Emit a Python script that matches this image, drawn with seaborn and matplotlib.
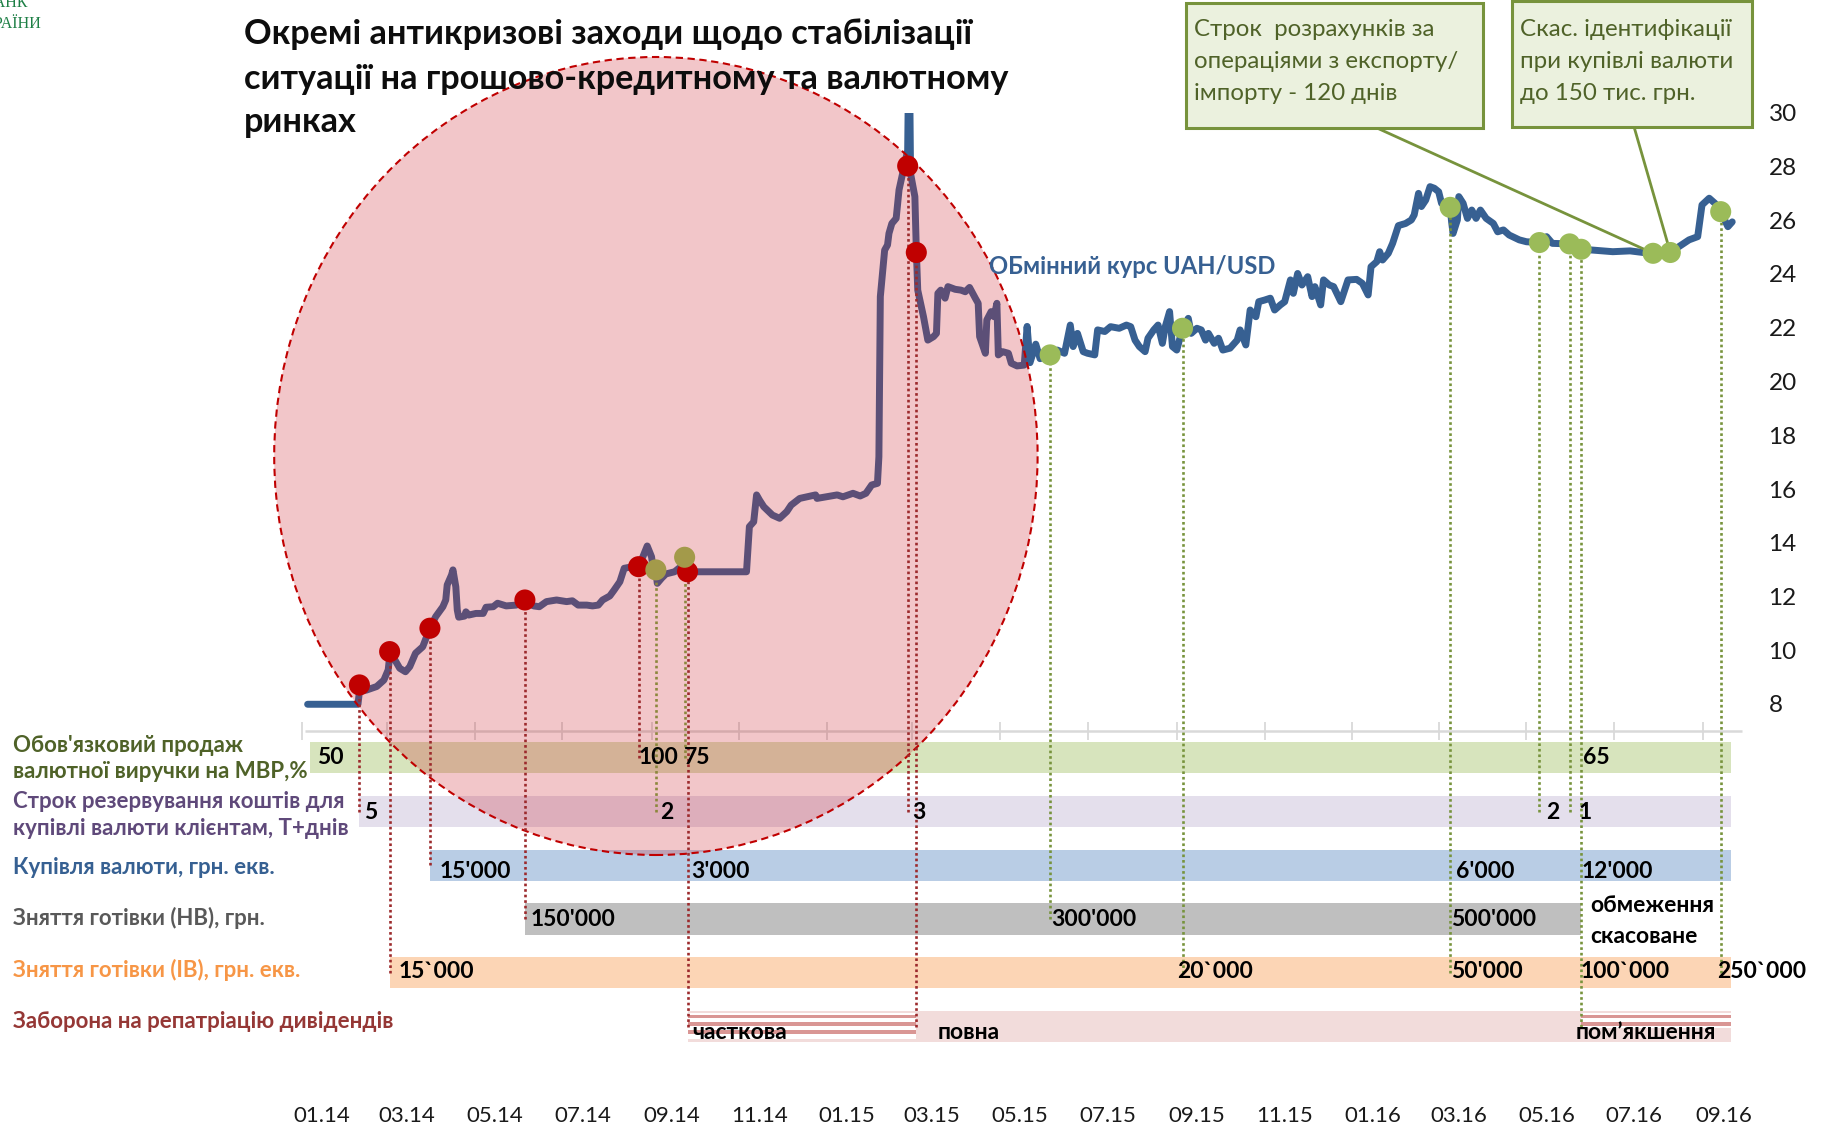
import numpy as np
import pandas as pd
import matplotlib
matplotlib.use("Agg")
import matplotlib.pyplot as plt
import matplotlib.dates as mdates
from matplotlib.patches import Ellipse, Rectangle
import seaborn as sns

# =============================================================================
# Data
# =============================================================================
# official UAH/USD exchange rate
rate_dates = [
    "2014-01-05", "2014-02-09", "2014-02-10", "2014-02-15", "2014-02-22", "2014-02-27",
    "2014-03-02", "2014-03-03", "2014-03-06", "2014-03-10", "2014-03-14", "2014-03-17",
    "2014-03-21", "2014-03-26", "2014-03-31",
    "2014-04-04", "2014-04-09", "2014-04-11", "2014-04-12", "2014-04-15", "2014-04-16",
    "2014-04-18", "2014-04-19", "2014-04-20", "2014-04-24", "2014-04-25", "2014-04-27",
    "2014-05-02", "2014-05-07", "2014-05-09", "2014-05-14", "2014-05-17", "2014-05-23", "2014-05-30",
    "2014-06-05", "2014-06-11", "2014-06-15", "2014-06-20", "2014-06-27",
    "2014-07-04", "2014-07-08", "2014-07-12", "2014-07-18", "2014-07-22", "2014-07-26", "2014-07-29",
    "2014-08-03", "2014-08-06", "2014-08-10", "2014-08-13", "2014-08-19", "2014-08-23",
    "2014-08-26", "2014-08-29",
    "2014-09-01", "2014-09-02", "2014-09-04", "2014-09-05", "2014-09-08", "2014-09-11",
    "2014-09-17", "2014-09-20", "2014-09-23", "2014-09-26",
    "2014-11-06", "2014-11-08", "2014-11-11", "2014-11-13", "2014-11-15", "2014-11-18",
    "2014-11-24", "2014-11-29",
    "2014-12-04", "2014-12-07", "2014-12-13", "2014-12-24", "2014-12-25",
    "2015-01-08", "2015-01-12", "2015-01-19", "2015-01-24", "2015-01-28",
    "2015-02-01", "2015-02-05", "2015-02-06", "2015-02-07", "2015-02-10", "2015-02-12",
    "2015-02-13", "2015-02-15", "2015-02-18", "2015-02-20", "2015-02-24", "2015-02-26",
    "2015-02-27", "2015-02-28",
    "2015-03-03", "2015-03-04", "2015-03-05", "2015-03-09", "2015-03-12", "2015-03-16",
    "2015-03-18", "2015-03-19", "2015-03-21", "2015-03-24", "2015-03-26", "2015-03-31",
    "2015-04-04", "2015-04-07", "2015-04-10", "2015-04-14", "2015-04-16", "2015-04-17",
    "2015-04-21", "2015-04-22", "2015-04-25", "2015-04-27", "2015-04-29", "2015-04-30",
    "2015-05-03", "2015-05-07", "2015-05-09", "2015-05-13", "2015-05-18", "2015-05-20",
    "2015-05-22", "2015-05-26", "2015-05-29",
    "2015-06-05", "2015-06-10", "2015-06-15", "2015-06-19", "2015-06-21", "2015-06-24", "2015-06-28",
    "2015-07-01", "2015-07-06", "2015-07-08", "2015-07-13", "2015-07-17", "2015-07-23",
    "2015-07-28", "2015-07-31",
    "2015-08-03", "2015-08-06", "2015-08-10", "2015-08-12", "2015-08-16", "2015-08-19",
    "2015-08-22", "2015-08-24", "2015-08-27", "2015-08-29",
    "2015-09-01", "2015-09-05", "2015-09-09", "2015-09-11", "2015-09-15", "2015-09-18",
    "2015-09-21", "2015-09-23", "2015-09-27", "2015-09-30",
    "2015-10-03", "2015-10-08", "2015-10-13", "2015-10-15", "2015-10-19", "2015-10-22",
    "2015-10-26", "2015-10-28",
    "2015-11-01", "2015-11-05", "2015-11-08", "2015-11-12", "2015-11-15", "2015-11-19",
    "2015-11-21", "2015-11-24", "2015-11-27",
    "2015-12-01", "2015-12-04", "2015-12-06", "2015-12-10", "2015-12-12", "2015-12-16",
    "2015-12-19", "2015-12-24", "2015-12-29",
    "2016-01-04", "2016-01-08", "2016-01-12", "2016-01-14", "2016-01-18", "2016-01-20",
    "2016-01-22", "2016-01-26", "2016-01-29",
    "2016-02-02", "2016-02-07", "2016-02-11", "2016-02-13", "2016-02-16", "2016-02-18",
    "2016-02-21", "2016-02-24", "2016-02-27",
    "2016-03-01", "2016-03-03", "2016-03-09", "2016-03-10", "2016-03-11", "2016-03-14",
    "2016-03-15", "2016-03-18", "2016-03-21", "2016-03-24", "2016-03-27", "2016-03-30",
    "2016-04-03", "2016-04-08", "2016-04-11", "2016-04-15", "2016-04-19", "2016-04-26",
    "2016-05-01", "2016-05-10", "2016-05-15", "2016-05-19", "2016-05-31",
    "2016-06-08", "2016-06-16", "2016-06-30",
    "2016-07-12", "2016-07-21", "2016-07-28",
    "2016-08-09", "2016-08-15", "2016-08-22", "2016-08-28", "2016-08-31",
    "2016-09-05", "2016-09-09", "2016-09-13", "2016-09-18", "2016-09-21",
]
rate_values = [
    7.99, 7.99, 8.46, 8.52, 8.65, 8.89,
    9.27, 9.76, 9.70, 9.33, 9.20, 9.39,
    9.89, 10.13, 10.82,
    11.25, 11.62, 11.87, 12.43, 12.80, 12.99,
    12.36, 11.50, 11.23, 11.27, 11.43, 11.31,
    11.37, 11.37, 11.60, 11.62, 11.75, 11.65, 11.68,
    11.87, 11.65, 11.62, 11.81, 11.87,
    11.81, 11.84, 11.68, 11.68, 11.65, 11.68, 11.87,
    12.02, 12.24, 12.55, 13.05, 13.11, 13.11,
    13.48, 13.88,
    13.48, 13.10, 12.92, 12.49, 12.68, 12.84,
    12.92, 13.05, 13.15, 12.92,
    12.92, 14.60, 14.78, 15.78, 15.59, 15.34,
    15.03, 14.91,
    15.16, 15.40, 15.65, 15.78, 15.65,
    15.78, 15.71, 15.84, 15.74, 15.84,
    16.15, 16.21, 17.20, 23.16, 24.89, 25.08,
    25.51, 25.88, 26.07, 27.13, 28.12, 28.60,
    33.50, 27.74,
    26.88, 24.90, 23.40, 22.41, 21.54, 21.67,
    21.79, 23.28, 23.40, 23.10, 23.53, 23.43,
    23.40, 23.34, 23.50, 23.10, 22.91, 21.67,
    21.05, 22.29, 22.60, 22.41, 22.91, 20.99,
    21.11, 21.05, 20.68, 20.58, 20.61, 22.05,
    20.70, 21.39, 20.85,
    20.99, 21.17, 21.05, 22.10, 21.30, 21.79, 21.11,
    21.05, 20.99, 21.92, 21.86, 22.04, 21.98,
    22.10, 22.04,
    21.54, 21.30, 21.11, 21.61, 21.92, 22.10,
    21.42, 22.04, 22.60, 21.30,
    21.17, 21.98, 22.35, 21.79, 21.98, 21.92,
    21.54, 21.79, 21.42, 21.61,
    21.17, 21.24, 21.54, 21.92, 21.36, 22.66,
    22.41, 22.97,
    23.03, 23.10, 22.66, 22.85, 22.97, 23.78,
    23.28, 24.02, 23.59,
    23.90, 23.16, 23.53, 22.85, 23.78, 23.59,
    23.53, 22.97, 23.78,
    23.80, 23.65, 23.22, 24.27, 24.46, 24.83,
    24.52, 24.77, 25.14,
    25.80, 25.88, 26.01, 26.20, 27.00, 26.51,
    26.75, 27.25, 27.19,
    27.06, 26.63, 26.48, 25.94, 25.51, 26.01,
    26.88, 26.63, 26.07, 26.38, 26.07, 26.38,
    26.07, 25.88, 25.57, 25.64, 25.45, 25.27,
    25.20, 25.17, 25.39, 25.14, 25.12,
    24.92, 24.89, 24.83,
    24.86, 24.80, 24.77,
    24.80, 25.02, 25.27, 25.39, 26.57,
    26.82, 26.63, 26.32, 25.76, 25.94,
]

# decision markers on the rate line (row = band the dotted leader goes down to)
red_dates = ["2014-02-10", "2014-03-03", "2014-03-31", "2014-06-05",
             "2014-08-23", "2014-09-26", "2015-02-26", "2015-03-04"]
red_values = [8.71, 9.95, 10.82, 11.87, 13.11, 12.92, 28.02, 24.80]
red_rows = [1, 4, 2, 3, 0, 5, 1, 5]

olive_dates = ["2014-09-04", "2014-09-24"]
olive_values = [12.99, 13.46]
olive_rows = [1, 0]

green_dates = ["2015-06-05", "2015-09-05", "2016-03-09", "2016-05-10", "2016-05-31",
               "2016-06-08", "2016-07-28", "2016-08-09", "2016-09-13"]
green_values = [20.99, 21.98, 26.48, 25.17, 25.12, 24.92, 24.77, 24.80, 26.32]
green_rows = [3, 4, 4, 1, 1, 5, -1, -1, 4]

# measure bands
band_end = "2016-09-20"

sale_starts = ["2014-01-07", "2014-08-23", "2014-09-24", "2016-06-08"]
sale_labels = ["50", "100", "75", "65"]

reserve_starts = ["2014-02-10", "2014-09-04", "2015-02-26", "2016-05-10", "2016-05-31"]
reserve_labels = ["5", "2", "3", "2", "1"]

purchase_starts = ["2014-03-31", "2014-09-26", "2016-03-09", "2016-06-08"]
purchase_labels = ["15'000", "3'000", "6'000", "12'000"]

cash_uah_starts = ["2014-06-05", "2015-06-05", "2016-03-09"]
cash_uah_labels = ["150'000", "300'000", "500'000"]
cash_uah_end = "2016-06-08"
cash_uah_after = ["обмеження", "скасоване"]

cash_fx_starts = ["2014-03-03", "2015-09-05", "2016-03-09", "2016-06-08", "2016-09-13"]
cash_fx_labels = ["15`000", "20`000", "50'000", "100`000", "250`000"]

div_starts = ["2014-09-26", "2015-03-04", "2016-06-08"]
div_labels = ["часткова", "повна", "пом’якшення"]
div_partial = [True, False, True]

row_titles = [
    ["Обов'язковий продаж", "валютної виручки на МВР,%"],
    ["Строк резервування коштів для", "купівлі валюти клієнтам, Т+днів"],
    ["Купівля валюти, грн. екв."],
    ["Зняття готівки (НВ), грн."],
    ["Зняття готівки (ІВ), грн. екв."],
    ["Заборона на репатріацію дивідендів"],
]

month_labels = ["01.14", "03.14", "05.14", "07.14", "09.14", "11.14",
                "01.15", "03.15", "05.15", "07.15", "09.15", "11.15",
                "01.16", "03.16", "05.16", "07.16", "09.16"]

title_lines = ["Окремі антикризові заходи щодо стабілізації",
               "ситуації на грошово-кредитному та валютному",
               "ринках"]
rate_title = "ОБмінний курс UAH/USD"
callout_1 = ["Строк  розрахунків за", "операціями з експорту/", "імпорту - 120 днів"]
callout_2 = ["Скас. ідентифікації", "при купівлі валюти", "до 150 тис. грн."]

# =============================================================================
# Styling / layout
# =============================================================================
C_LINE = "#376092"
C_RED, C_OLIVE, C_GREEN = "#c00000", "#a39a4a", "#9bbb59"
C_RED_DOT, C_OLIVE_DOT, C_GREEN_DOT = "#9c2a2c", "#8c873c", "#77933c"
ROW_FILL = ["#d7e4bd", "#e4dfec", "#b9cde5", "#bfbfbf", "#fcd5b5", "#f2dcdb"]
ROW_TEXT = ["#4f6228", "#5f497a", "#366092", "#595959", "#f79646", "#953735"]
ROW_Y = [6, 4, 2, 0, -2, -4]
BAND_H = 1.17

sns.set_theme(style="white")
plt.rcParams["font.family"] = ["Lato", "DejaVu Sans"]

W, H = 1822, 1127
AX_RIGHT, AX_BOTTOM = 1765, 1104
fig = plt.figure(figsize=(W / 100, H / 100), dpi=100)
ax = fig.add_axes([0, 1 - AX_BOTTOM / H, AX_RIGHT / W, AX_BOTTOM / H])

BASE = mdates.date2num(pd.Timestamp("2014-01-15"))
PX_DAY = 1.439
PX_UNIT = 26.875


def X(px):
    return BASE + (px - 322) / PX_DAY


def Y(py):
    return 8 + (704 - py) / PX_UNIT


def dn(d):
    return mdates.date2num(pd.Timestamp(d))


# exchange rate line
rate = pd.DataFrame({"date": pd.to_datetime(rate_dates), "uah": rate_values})
sns.lineplot(data=rate, x="date", y="uah", ax=ax, color=C_LINE, linewidth=5.0,
             estimator=None, sort=False, zorder=2,
             solid_capstyle="round", solid_joinstyle="round")
clip = Rectangle((X(0), Y(AX_BOTTOM)), X(AX_RIGHT) - X(0), 30 - Y(AX_BOTTOM),
                 transform=ax.transData)
ax.lines[-1].set_clip_path(clip)


# bands
def band(row, start, end, color, y=None, h=BAND_H, z=1):
    s, e = dn(start), dn(end)
    ax.barh(ROW_Y[row] if y is None else y, e - s, left=s, height=h,
            color=color, linewidth=0, zorder=z)


rows = [
    (0, sale_starts, sale_labels, band_end, [6.5, -0.5, -1, 1.5]),
    (1, reserve_starts, reserve_labels, band_end, [5, 4, 5, 7, 9]),
    (2, purchase_starts, purchase_labels, band_end, [10, 3.5, 5.5, 0]),
    (3, cash_uah_starts, cash_uah_labels, cash_uah_end, [6, 1, 1]),
    (4, cash_fx_starts, cash_fx_labels, band_end, [9, -5.5, 1, -0.5, -3.5]),
    (5, div_starts, div_labels, band_end, [5, 21.5, -6]),
]
label_dy = [0, 1, 6, 1, -1, 6]
VAL_FS = 16.5

for row, starts, labels, end, offs in rows:
    ends = starts[1:] + [end]
    for s, e in zip(starts, ends):
        band(row, s, e, ROW_FILL[row])
    for s, lab, off in zip(starts, labels, offs):
        ax.text(dn(s) + off / PX_DAY, ROW_Y[row] - label_dy[row] / PX_UNIT, lab,
                fontsize=VAL_FS, fontweight="bold", color="black",
                ha="left", va="center", zorder=7)

# partial / softened dividend ban: white strip with pink lines
div_ends = div_starts[1:] + [band_end]
for s, e, part in zip(div_starts, div_ends, div_partial):
    if not part:
        continue
    stripes = [(1015, 1018), (1022, 1026), (1030, 1034)]
    bottom = 1039
    if s != div_starts[0]:
        stripes, bottom = stripes[:2], 1028
    band(5, s, e, "white", y=Y((1013 + bottom) / 2), h=(bottom - 1013) / PX_UNIT, z=1.2)
    for p1, p2 in stripes:
        band(5, s, e, "#d99694", y=Y((p1 + p2) / 2), h=(p2 - p1) / PX_UNIT, z=1.3)

for i, t in enumerate(cash_uah_after):
    ax.text(dn(cash_uah_end) + 9 / PX_DAY, Y(905 + 31.5 * i), t, fontsize=VAL_FS,
            fontweight="bold", color="black", ha="left", va="center", zorder=7)

# highlight of the crisis period
ax.add_patch(Ellipse((X(655.9), Y(456)), 763.4 / PX_DAY, 798 / PX_UNIT,
                     facecolor=(0.80, 0.12, 0.16, 0.25), edgecolor="#c00000",
                     linewidth=1.5, linestyle=(0, (3.5, 2.2)), zorder=3))

# dotted leaders + markers
for dates, vals, rws, dot_c, lead_c in [
    (red_dates, red_values, red_rows, C_RED, C_RED_DOT),
    (olive_dates, olive_values, olive_rows, C_OLIVE, C_OLIVE_DOT),
    (green_dates, green_values, green_rows, C_GREEN, C_GREEN_DOT),
]:
    xs = [dn(d) for d, r in zip(dates, rws) if r >= 0]
    y0 = [ROW_Y[r] for r in rws if r >= 0]
    y1 = [v for v, r in zip(vals, rws) if r >= 0]
    ax.vlines(xs, y0, y1, colors=lead_c, linestyles=(0, (1, 1.1)), linewidth=1.9, zorder=4)
    sns.scatterplot(x=pd.to_datetime(dates), y=vals, ax=ax, s=230, color=dot_c,
                    edgecolor="none", linewidth=0, zorder=5, legend=False)

# callouts
callout_txt = []
for lines, (l, t, r, b), anchor, idx, x0, width in [
    (callout_1, (1186, 3.5, 1483, 128), (1377, 128), 6, 1194, 264),
    (callout_2, (1512, 1, 1752, 126.7), (1634, 126.7), 7, 1519.5, 213),
]:
    ax.plot([X(anchor[0]), dn(green_dates[idx])], [Y(anchor[1]), green_values[idx]],
            color="#77933c", linewidth=2, zorder=4.5)
    ax.add_patch(Rectangle((X(l), Y(b)), (r - l) / PX_DAY, (b - t) / PX_UNIT,
                           facecolor="#ebf1de", edgecolor="#77933c", linewidth=2.2, zorder=6))
    txts = [ax.text(X(x0), Y(py), s, fontsize=15, color="#4f6228", ha="left",
                    va="center", zorder=7) for s, py in zip(lines, [29, 61.5, 93])]
    callout_txt.append((txts, width))

# axis line with ticks
tick_dates = mdates.date2num(pd.date_range("2014-01-01", "2016-09-01", freq="2MS"))
ax.hlines(Y(731), dn("2014-01-03"), dn("2016-09-28"), colors="#d9d9d9", linewidth=1.8, zorder=0.5)
ax.vlines(tick_dates, Y(740), Y(722), colors="#d9d9d9", linewidth=1.3, zorder=0.5)

# texts
title_txt = [ax.text(X(244), Y(py), s, fontsize=24, fontweight="bold", color="#0d0d0d",
                     ha="left", va="baseline", zorder=8)
             for s, py in zip(title_lines, [43.5, 89, 132.5])]
rate_txt = ax.text(X(989), Y(267), rate_title, fontsize=15, fontweight="bold",
                   color="#376092", ha="left", va="center", zorder=7)

title_pos = [[745, 771], [801, 828.5], [867], [918], [969.5], [1021]]
row_txt = []
for row, (lines, pys) in enumerate(zip(row_titles, title_pos)):
    for s, py in zip(lines, pys):
        row_txt.append(ax.text(X(13), Y(py), s, fontsize=14, fontweight="bold",
                               color=ROW_TEXT[row], ha="left", va="center", zorder=7))

ax.text(X(28), Y(7), "БАНК", family="Liberation Serif", fontsize=11.5, color="#1d7f45",
        ha="right", va="baseline")
ax.text(X(41.5), Y(27.5), "УКРАЇНИ", family="Liberation Serif", fontsize=11.5,
        color="#1d7f45", ha="right", va="baseline")

renderer = fig.canvas.get_renderer()


def fit(texts, target):
    w = max(t.get_window_extent(renderer).width for t in texts)
    k = target / w
    for t in texts:
        t.set_fontsize(t.get_fontsize() * k)


fit(title_txt, 765)
fit([rate_txt], 286)
fit(row_txt, 383)
for txts, width in callout_txt:
    fit(txts, width)

# axes
tick_pos = pd.to_datetime(month_labels, format="%m.%y") + pd.Timedelta(days=14)
ax.set_xticks(mdates.date2num(tick_pos))
ax.set_xticklabels(month_labels)
ax.set_yticks(np.arange(8, 31, 2))
ax.yaxis.tick_right()
ax.tick_params(axis="y", length=0, pad=2.5, labelsize=17.5, labelcolor="#1a1a1a")
ax.tick_params(axis="x", length=0, pad=1.5, labelsize=16, labelcolor="#1a1a1a")
ax.set_xlabel("")
ax.set_ylabel("")
sns.despine(ax=ax, left=True, bottom=True, right=True, top=True)
ax.set_xlim(X(0), X(AX_RIGHT))
ax.set_ylim(Y(AX_BOTTOM), Y(0))
ax.set_facecolor("white")

fig.savefig("out.png", dpi=100, facecolor="white")
plt.close(fig)
